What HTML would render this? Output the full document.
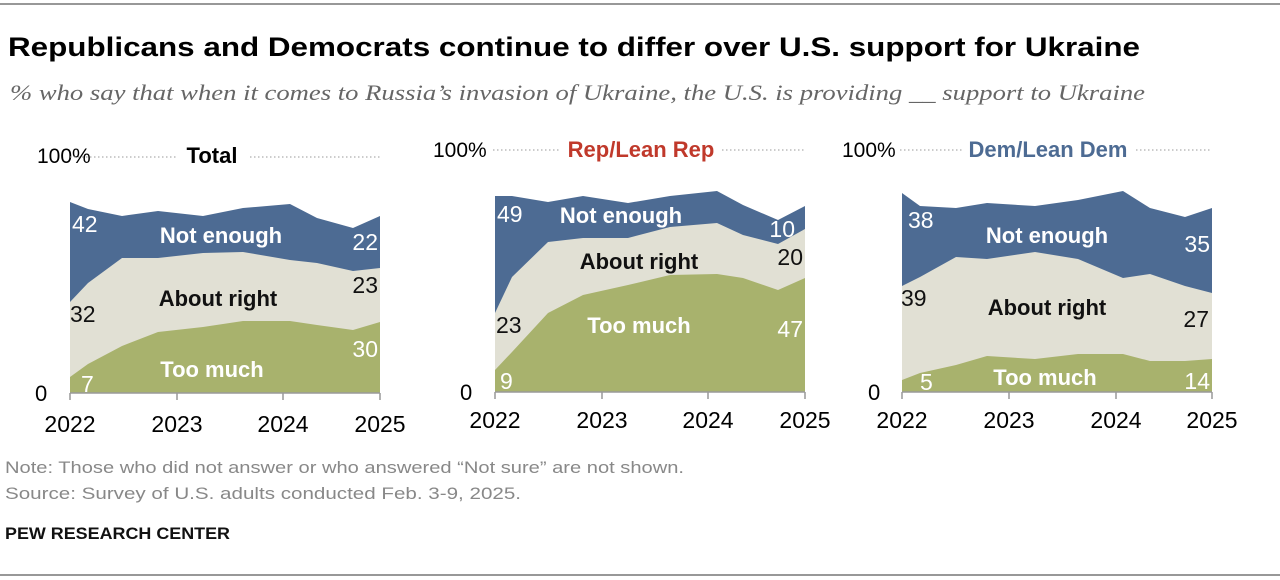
<!DOCTYPE html>
<html><head><meta charset="utf-8"><style>
html,body{margin:0;padding:0;background:#fff;}
svg{display:block;}
</style></head><body>
<svg width="1280" height="580" xmlns="http://www.w3.org/2000/svg" font-family="Liberation Sans, sans-serif">
<line x1="0" y1="4" x2="1280" y2="4" stroke="#777" stroke-width="1.5"/>
<line x1="0" y1="575" x2="1280" y2="575" stroke="#777" stroke-width="1.5"/>
<text x="8" y="56" font-size="27" font-weight="bold" textLength="1132" lengthAdjust="spacingAndGlyphs">Republicans and Democrats continue to differ over U.S. support for Ukraine</text>
<text x="10" y="100" font-family="Liberation Serif, serif" font-style="italic" font-size="22" fill="#666" textLength="1135" lengthAdjust="spacingAndGlyphs">% who say that when it comes to Russia’s invasion of Ukraine, the U.S. is providing __ support to Ukraine</text>

<!-- Panel 1 -->
<g font-size="22">
<polygon fill="#4d6b93" points="70,202 88,209 122,216 158,211 203,216 243,208 290,204 317,218 353,228 380,216 380,393 70,393"/>
<polygon fill="#e1e0d4" points="70,302 88,283 122,258 158,258 203,253 243,252 290,260 317,263 353,271 380,268 380,393 70,393"/>
<polygon fill="#a8b26d" points="70,377 88,364 122,346 158,332 203,327 243,321 290,321 317,325 353,330 380,322 380,393 70,393"/>
<line x1="70" y1="393" x2="380" y2="393" stroke="#999" stroke-width="1.5"/>
<g stroke="#999" stroke-width="1.5"><line x1="70" y1="393" x2="70" y2="400"/><line x1="177" y1="393" x2="177" y2="400"/><line x1="283" y1="393" x2="283" y2="400"/><line x1="380" y1="393" x2="380" y2="400"/></g>
<text x="37" y="163" font-size="21">100%</text>
<line x1="70" y1="157" x2="176" y2="157" stroke="#999" stroke-dasharray="1.5,2.5"/>
<line x1="250" y1="157" x2="380" y2="157" stroke="#999" stroke-dasharray="1.5,2.5"/>
<text x="212" y="163" font-weight="bold" text-anchor="middle">Total</text>
<text x="35" y="401">0</text>
<g font-size="23"><text x="70" y="432" text-anchor="middle">2022</text><text x="177" y="432" text-anchor="middle">2023</text><text x="283" y="432" text-anchor="middle">2024</text><text x="380" y="432" text-anchor="middle">2025</text>
<text x="72" y="232" fill="#fff">42</text><text x="70" y="322" fill="#111">32</text><text x="81" y="392" fill="#fff">7</text>
<text x="378" y="250" fill="#fff" text-anchor="end">22</text><text x="378" y="293" fill="#111" text-anchor="end">23</text><text x="378" y="357" fill="#fff" text-anchor="end">30</text></g>
<text x="221" y="243" fill="#fff" font-weight="bold" text-anchor="middle">Not enough</text>
<text x="218" y="306" fill="#111" font-weight="bold" text-anchor="middle">About right</text>
<text x="212" y="377" fill="#fff" font-weight="bold" text-anchor="middle">Too much</text>
</g>

<!-- Panel 2 -->
<g font-size="22">
<polygon fill="#4d6b93" points="495,196 512,196 548,202 583,196 628,203 670,196 717,191 743,205 778,220 805,206 805,392 495,392"/>
<polygon fill="#e1e0d4" points="495,313 512,277 548,242 583,238 628,238 670,227 717,223 743,235 778,244 805,229 805,392 495,392"/>
<polygon fill="#a8b26d" points="495,370 512,352 548,313 583,295 628,285 670,275 717,274 743,278 778,290 805,278 805,392 495,392"/>
<line x1="495" y1="392" x2="805" y2="392" stroke="#999" stroke-width="1.5"/>
<g stroke="#999" stroke-width="1.5"><line x1="495" y1="392" x2="495" y2="399"/><line x1="602" y1="392" x2="602" y2="399"/><line x1="708" y1="392" x2="708" y2="399"/><line x1="805" y1="392" x2="805" y2="399"/></g>
<text x="433" y="157" font-size="21">100%</text>
<line x1="493" y1="150" x2="560" y2="150" stroke="#999" stroke-dasharray="1.5,2.5"/>
<line x1="722" y1="150" x2="805" y2="150" stroke="#999" stroke-dasharray="1.5,2.5"/>
<text x="641" y="157" font-weight="bold" fill="#c0392b" text-anchor="middle">Rep/Lean Rep</text>
<text x="460" y="400">0</text>
<g font-size="23"><text x="495" y="428" text-anchor="middle">2022</text><text x="602" y="428" text-anchor="middle">2023</text><text x="708" y="428" text-anchor="middle">2024</text><text x="805" y="428" text-anchor="middle">2025</text>
<text x="497" y="222" fill="#fff">49</text><text x="496" y="333" fill="#111">23</text><text x="500" y="389" fill="#fff">9</text>
<text x="795" y="237" fill="#fff" text-anchor="end">10</text><text x="803" y="265" fill="#111" text-anchor="end">20</text><text x="803" y="337" fill="#fff" text-anchor="end">47</text></g>
<text x="621" y="223" fill="#fff" font-weight="bold" text-anchor="middle">Not enough</text>
<text x="639" y="269" fill="#111" font-weight="bold" text-anchor="middle">About right</text>
<text x="639" y="333" fill="#fff" font-weight="bold" text-anchor="middle">Too much</text>
</g>

<!-- Panel 3 -->
<g font-size="22">
<polygon fill="#4d6b93" points="902,193 920,206 956,208 987,203 1035,206 1078,200 1123,191 1150,208 1185,217 1212,208 1212,392 902,392"/>
<polygon fill="#e1e0d4" points="902,286 920,277 956,257 987,259 1035,252 1078,259 1123,278 1150,274 1185,286 1212,293 1212,392 902,392"/>
<polygon fill="#a8b26d" points="902,380 920,373 956,365 987,356 1035,359 1078,354 1123,354 1150,361 1185,361 1212,359 1212,392 902,392"/>
<line x1="902" y1="392" x2="1212" y2="392" stroke="#999" stroke-width="1.5"/>
<g stroke="#999" stroke-width="1.5"><line x1="902" y1="392" x2="902" y2="399"/><line x1="1009" y1="392" x2="1009" y2="399"/><line x1="1116" y1="392" x2="1116" y2="399"/><line x1="1212" y1="392" x2="1212" y2="399"/></g>
<text x="842" y="157" font-size="21">100%</text>
<line x1="900" y1="150" x2="962" y2="150" stroke="#999" stroke-dasharray="1.5,2.5"/>
<line x1="1136" y1="150" x2="1212" y2="150" stroke="#999" stroke-dasharray="1.5,2.5"/>
<text x="1048" y="157" font-weight="bold" fill="#4d6b93" text-anchor="middle">Dem/Lean Dem</text>
<text x="868" y="400">0</text>
<g font-size="23"><text x="902" y="428" text-anchor="middle">2022</text><text x="1009" y="428" text-anchor="middle">2023</text><text x="1116" y="428" text-anchor="middle">2024</text><text x="1212" y="428" text-anchor="middle">2025</text>
<text x="908" y="228" fill="#fff">38</text><text x="901" y="306" fill="#111">39</text><text x="920" y="390" fill="#fff">5</text>
<text x="1210" y="252" fill="#fff" text-anchor="end">35</text><text x="1209" y="327" fill="#111" text-anchor="end">27</text><text x="1210" y="389" fill="#fff" text-anchor="end">14</text></g>
<text x="1047" y="243" fill="#fff" font-weight="bold" text-anchor="middle">Not enough</text>
<text x="1047" y="315" fill="#111" font-weight="bold" text-anchor="middle">About right</text>
<text x="1045" y="385" fill="#fff" font-weight="bold" text-anchor="middle">Too much</text>
</g>

<text x="5" y="473" font-size="17" fill="#888" textLength="679" lengthAdjust="spacingAndGlyphs">Note: Those who did not answer or who answered “Not sure” are not shown.</text>
<text x="5" y="499" font-size="17" fill="#888" textLength="516" lengthAdjust="spacingAndGlyphs">Source: Survey of U.S. adults conducted Feb. 3-9, 2025.</text>
<text x="5" y="539" font-size="17" font-weight="bold" fill="#111" textLength="225" lengthAdjust="spacingAndGlyphs">PEW RESEARCH CENTER</text>
</svg>
</body></html>
